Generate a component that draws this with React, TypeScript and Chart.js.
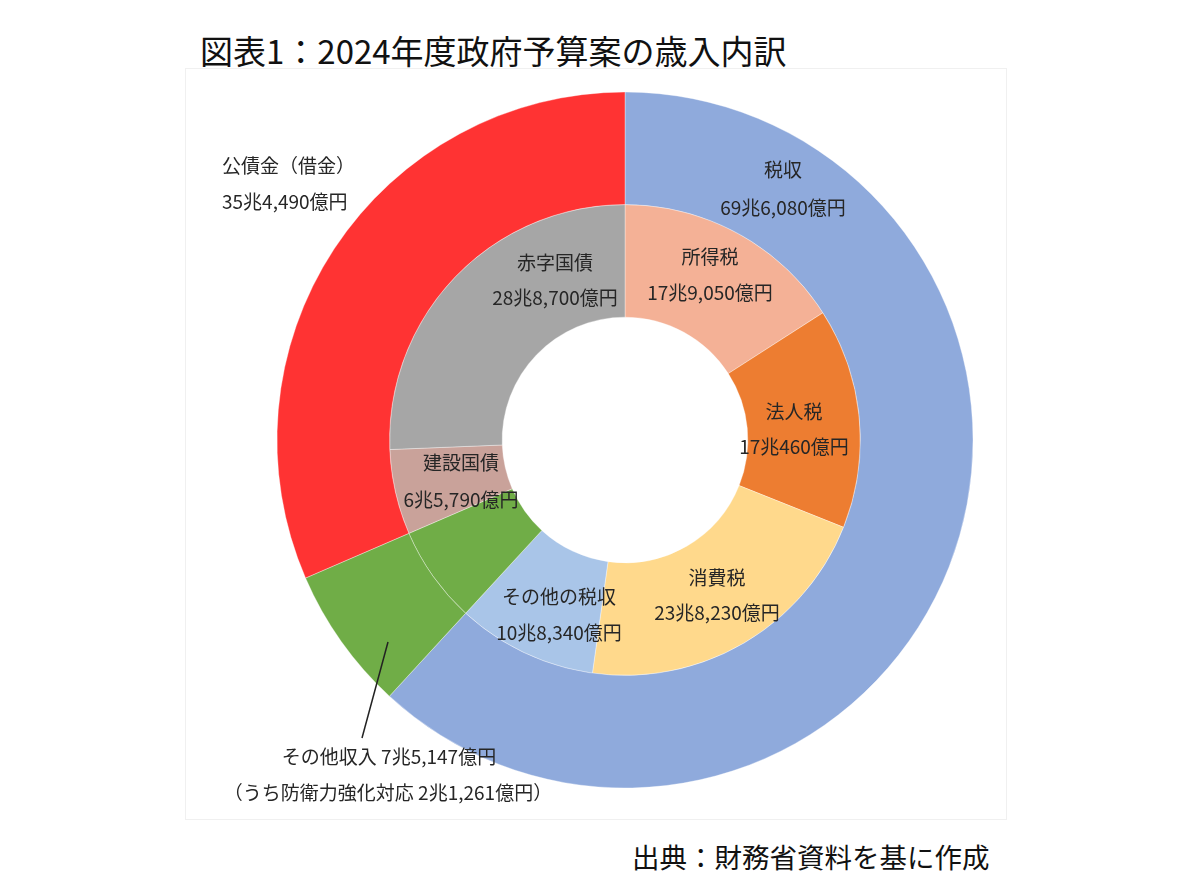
import { useEffect, useRef } from "react";
import { Chart, registerables } from "chart.js";

Chart.register(...registerables);

// 単位：億円
const outerLabels = ["税収", "その他収入", "公債金（借金）"];
const outerValues = [696080, 75147, 354490];
const outerColors = ["#8FAADC", "#70AD47", "#FF3333"];

const innerLabels = ["所得税", "法人税", "消費税", "その他の税収", "その他収入", "建設国債", "赤字国債"];
const innerValues = [179050, 170460, 238230, 108340, 75147, 65790, 288700];
const innerColors = ["#F4B196", "#ED7D31", "#FFD98C", "#A9C5E8", "#70AD47", "#C9A29A", "#A6A6A6"];

const defenseValue = 21261;

const fmt = (v: number) => {
  const cho = Math.floor(v / 10000);
  const oku = v % 10000;
  return `${cho}兆${oku.toLocaleString("en-US")}億円`;
};

// ラベルの置き場所（チャート中心からのずれ）
type Spot = { ds: number; i: number; dx: number; dy1: number; dy2: number; align: CanvasTextAlign };
const spots: Spot[] = [
  { ds: 0, i: 0, dx: 158, dy1: -270, dy2: -232, align: "center" },
  { ds: 0, i: 2, dx: -403, dy1: -274, dy2: -238, align: "left" },
  { ds: 1, i: 0, dx: 85, dy1: -183, dy2: -147, align: "center" },
  { ds: 1, i: 1, dx: 169, dy1: -28, dy2: 7, align: "center" },
  { ds: 1, i: 2, dx: 92, dy1: 138, dy2: 173, align: "center" },
  { ds: 1, i: 3, dx: -66, dy1: 157, dy2: 193, align: "center" },
  { ds: 1, i: 5, dx: -164, dy1: 23, dy2: 60, align: "center" },
  { ds: 1, i: 6, dx: -70, dy1: -177, dy2: -142, align: "center" },
];

const FONT = '"Noto Sans CJK JP", "Noto Sans", sans-serif';

const labelPlugin = {
  id: "sliceLabels",
  afterDatasetsDraw(chart: any) {
    const ctx = chart.ctx as CanvasRenderingContext2D;
    const arc0 = chart.getDatasetMeta(0).data[0];
    const cx = arc0.x;
    const cy = arc0.y;
    ctx.save();
    ctx.fillStyle = "#262626";
    ctx.font = `19px ${FONT}`;
    ctx.textBaseline = "middle";
    spots.forEach((s) => {
      const labels = s.ds === 0 ? outerLabels : innerLabels;
      const values = s.ds === 0 ? outerValues : innerValues;
      ctx.textAlign = s.align;
      ctx.fillText(labels[s.i], cx + s.dx, cy + s.dy1);
      ctx.fillText(fmt(values[s.i]), cx + s.dx, cy + s.dy2);
    });
    // その他収入（外側の注記）
    ctx.textAlign = "center";
    ctx.fillText(`${outerLabels[1]} ${fmt(outerValues[1])}`, cx - 236, cy + 317);
    ctx.fillText(`（うち防衛力強化対応 ${fmt(defenseValue)}）`, cx - 237, cy + 353);
    ctx.strokeStyle = "#222";
    ctx.lineWidth = 1.5;
    ctx.beginPath();
    ctx.moveTo(cx - 237, cy + 202);
    ctx.lineTo(cx - 263, cy + 298);
    ctx.stroke();
    ctx.restore();
  },
};

export default function App() {
  const ref = useRef<HTMLCanvasElement | null>(null);

  useEffect(() => {
    if (!ref.current) return;
    const chart = new Chart(ref.current, {
      type: "doughnut",
      data: {
        labels: innerLabels,
        datasets: [
          {
            label: "歳入",
            data: outerValues,
            backgroundColor: outerColors,
            borderColor: "rgba(255,255,255,0.35)",
            borderWidth: 1,
          },
          {
            label: "内訳",
            data: innerValues,
            backgroundColor: innerColors,
            borderColor: "rgba(255,255,255,0.35)",
            borderWidth: 1,
          },
        ],
      },
      options: {
        animation: false,
        responsive: true,
        maintainAspectRatio: false,
        radius: 348,
        cutout: "35.3%",
        layout: { padding: 0 },
        plugins: { legend: { display: false }, tooltip: { enabled: false } },
      },
      plugins: [labelPlugin],
    });
    return () => chart.destroy();
  }, []);

  return (
    <div style={{ position: "absolute", left: 0, top: 0, width: 1177, height: 892, background: "#fff", fontFamily: FONT }}>
      <div
        style={{
          position: "absolute",
          left: 185,
          top: 68,
          width: 820,
          height: 750,
          border: "1px solid #f0f0f0",
        }}
      />
      <div style={{ position: "absolute", left: 200, top: 30, fontSize: 33, lineHeight: "40px", color: "#111", whiteSpace: "nowrap" }}>
        図表1：2024年度政府予算案の歳入内訳
      </div>
      <div style={{ position: "absolute", left: 185, top: 68, width: 880, height: 744 }}>
        <canvas ref={ref} />
      </div>
      <div style={{ position: "absolute", left: 632, top: 836, fontSize: 27.5, lineHeight: "40px", color: "#111", whiteSpace: "nowrap" }}>
        出典：財務省資料を基に作成
      </div>
    </div>
  );
}
